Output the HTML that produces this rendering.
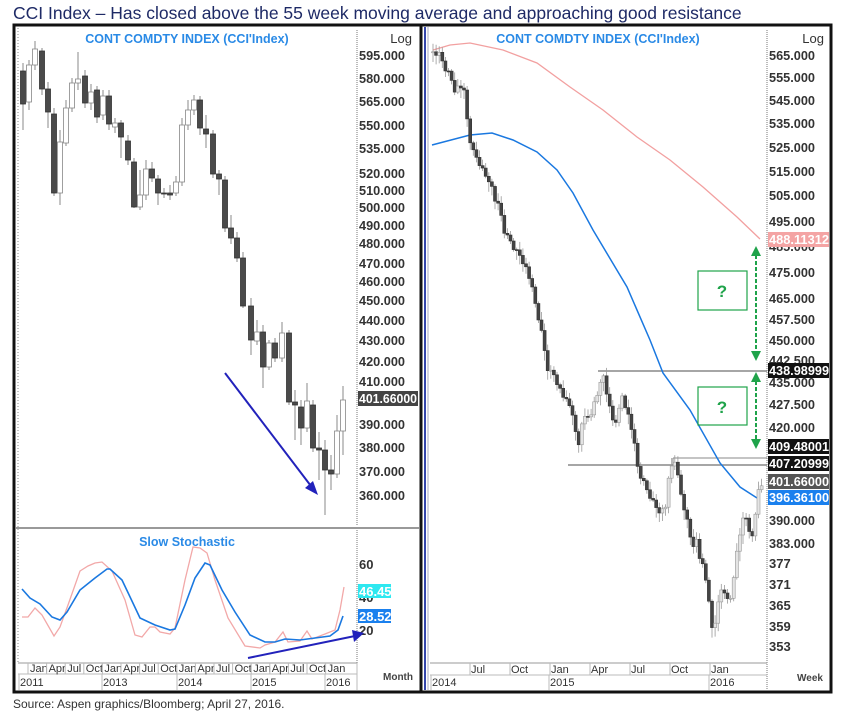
<!DOCTYPE html>
<html><head><meta charset="utf-8"><style>
body{margin:0;background:#fff;width:845px;height:715px;overflow:hidden}
svg{display:block;font-family:"Liberation Sans",sans-serif}
.ax{font-size:13px;fill:#333;font-weight:bold}
.tt{font-size:12.5px;fill:#2a8ae6;font-weight:bold}
.mo{font-size:11px;fill:#333}
</style></head><body>
<svg id="s" width="845" height="715" viewBox="0 0 845 715">
<text x="13" y="19" font-size="17.5" fill="#1e2a66">CCI Index – Has closed above the 55 week moving average and approaching good resistance</text>
<rect x="14" y="25" width="817" height="667" fill="#fff" stroke="#111" stroke-width="3"/>
<line x1="421" y1="25" x2="421" y2="692" stroke="#111" stroke-width="3"/>
<line x1="425" y1="27" x2="425" y2="690" stroke="#3344aa" stroke-width="2"/>
<line x1="428" y1="27" x2="428" y2="690" stroke="#aab" stroke-width="1"/>
<line x1="18" y1="28" x2="18" y2="663" stroke="#888" stroke-width="1" stroke-dasharray="1,2"/>
<line x1="357" y1="30" x2="357" y2="525" stroke="#777" stroke-dasharray="1,1"/>
<line x1="357" y1="530" x2="357" y2="663" stroke="#777" stroke-dasharray="1,1"/>
<line x1="16" y1="528" x2="419" y2="528" stroke="#999" stroke-width="2"/>
<line x1="18" y1="663" x2="357" y2="663" stroke="#999"/>
<line x1="18" y1="674" x2="357" y2="674" stroke="#bbb"/>
<line x1="357" y1="663" x2="357" y2="690" stroke="#bbb"/>
<text x="187" y="43" class="tt" text-anchor="middle">CONT  COMDTY  INDEX  (CCI'Index)</text>
<text x="412" y="43" class="ax" text-anchor="end" style="font-weight:normal">Log</text>
<g class="ax">
<text x="359" y="60" textLength="46" lengthAdjust="spacingAndGlyphs">595.000</text>
<text x="359" y="83" textLength="46" lengthAdjust="spacingAndGlyphs">580.000</text>
<text x="359" y="106" textLength="46" lengthAdjust="spacingAndGlyphs">565.000</text>
<text x="359" y="130" textLength="46" lengthAdjust="spacingAndGlyphs">550.000</text>
<text x="359" y="153" textLength="46" lengthAdjust="spacingAndGlyphs">535.000</text>
<text x="359" y="178" textLength="46" lengthAdjust="spacingAndGlyphs">520.000</text>
<text x="359" y="195" textLength="46" lengthAdjust="spacingAndGlyphs">510.000</text>
<text x="359" y="212" textLength="46" lengthAdjust="spacingAndGlyphs">500.000</text>
<text x="359" y="230" textLength="46" lengthAdjust="spacingAndGlyphs">490.000</text>
<text x="359" y="248" textLength="46" lengthAdjust="spacingAndGlyphs">480.000</text>
<text x="359" y="268" textLength="46" lengthAdjust="spacingAndGlyphs">470.000</text>
<text x="359" y="286" textLength="46" lengthAdjust="spacingAndGlyphs">460.000</text>
<text x="359" y="305" textLength="46" lengthAdjust="spacingAndGlyphs">450.000</text>
<text x="359" y="325" textLength="46" lengthAdjust="spacingAndGlyphs">440.000</text>
<text x="359" y="345" textLength="46" lengthAdjust="spacingAndGlyphs">430.000</text>
<text x="359" y="366" textLength="46" lengthAdjust="spacingAndGlyphs">420.000</text>
<text x="359" y="386" textLength="46" lengthAdjust="spacingAndGlyphs">410.000</text>
<text x="359" y="429" textLength="46" lengthAdjust="spacingAndGlyphs">390.000</text>
<text x="359" y="452" textLength="46" lengthAdjust="spacingAndGlyphs">380.000</text>
<text x="359" y="476" textLength="46" lengthAdjust="spacingAndGlyphs">370.000</text>
<text x="359" y="500" textLength="46" lengthAdjust="spacingAndGlyphs">360.000</text>
</g>
<rect x="358" y="391" width="60" height="15" fill="#444"/>
<text x="359" y="403" class="ax" style="fill:#fff" textLength="58" lengthAdjust="spacingAndGlyphs">401.66000</text>
<g id="lc"></g>
<line x1="225" y1="373" x2="314" y2="490" stroke="#2222bb" stroke-width="2"/>
<polygon points="318,495 305,488 313,481" fill="#2222bb"/>
<text x="187" y="546" class="tt" text-anchor="middle">Slow  Stochastic</text>
<g class="ax"><text x="359" y="569">60</text><text x="359" y="602">40</text><text x="359" y="635">20</text></g>
<rect x="358" y="584" width="33" height="14" fill="#2ee8f0"/>
<text x="359" y="596" class="ax" style="fill:#fff">46.45</text>
<rect x="358" y="609" width="33" height="14" fill="#1a80ee"/>
<text x="359" y="621" class="ax" style="fill:#fff">28.52</text>
<polyline fill="none" stroke="#f2a8a8" stroke-width="1.3" points="22,617 28,617 35,608 42,615 54,636 60,627 68,605 80,571 88,566 95,563 102,562 112,571 125,600 135,635 142,637 150,627 155,627 160,632 170,634 175,628 185,580 193,547 200,548 207,553 215,580 228,618 245,646 260,648 265,645 275,642 283,632 288,642 300,641 307,631 312,639 325,634 335,630 340,610 344,587"/>
<polyline fill="none" stroke="#1a78e0" stroke-width="1.6" points="22,589 30,598 40,604 52,617 60,620 67,612 80,590 95,578 107,569 110,569 122,580 140,618 155,625 170,630 175,629 185,605 195,578 205,563 210,565 222,590 235,612 250,635 265,642 275,642 285,639 300,640 315,638 330,636 338,630 343,616"/>
<line x1="248" y1="658" x2="355" y2="636" stroke="#2222bb" stroke-width="2"/>
<polygon points="364,633 352,630 354,642" fill="#2222bb"/>
<g class="mo" id="lm"></g>
<text x="383" y="680" font-size="10" fill="#444" font-weight="bold">Month</text>

<line x1="767" y1="30" x2="767" y2="690" stroke="#777" stroke-dasharray="1,1"/>
<line x1="430" y1="663" x2="767" y2="663" stroke="#999"/>
<line x1="430" y1="675" x2="767" y2="675" stroke="#bbb"/>
<text x="598" y="43" class="tt" text-anchor="middle">CONT  COMDTY  INDEX  (CCI'Index)</text>
<text x="824" y="43" class="ax" text-anchor="end" style="font-weight:normal">Log</text>
<g class="ax">
<text x="769" y="60" textLength="46" lengthAdjust="spacingAndGlyphs">565.000</text>
<text x="769" y="82" textLength="46" lengthAdjust="spacingAndGlyphs">555.000</text>
<text x="769" y="105" textLength="46" lengthAdjust="spacingAndGlyphs">545.000</text>
<text x="769" y="128" textLength="46" lengthAdjust="spacingAndGlyphs">535.000</text>
<text x="769" y="152" textLength="46" lengthAdjust="spacingAndGlyphs">525.000</text>
<text x="769" y="176" textLength="46" lengthAdjust="spacingAndGlyphs">515.000</text>
<text x="769" y="200" textLength="46" lengthAdjust="spacingAndGlyphs">505.000</text>
<text x="769" y="226" textLength="46" lengthAdjust="spacingAndGlyphs">495.000</text>
<text x="769" y="251" textLength="46" lengthAdjust="spacingAndGlyphs">485.000</text>
<text x="769" y="277" textLength="46" lengthAdjust="spacingAndGlyphs">475.000</text>
<text x="769" y="303" textLength="46" lengthAdjust="spacingAndGlyphs">465.000</text>
<text x="769" y="324" textLength="46" lengthAdjust="spacingAndGlyphs">457.500</text>
<text x="769" y="345" textLength="46" lengthAdjust="spacingAndGlyphs">450.000</text>
<text x="769" y="365" textLength="46" lengthAdjust="spacingAndGlyphs">442.500</text>
<text x="769" y="387" textLength="46" lengthAdjust="spacingAndGlyphs">435.000</text>
<text x="769" y="409" textLength="46" lengthAdjust="spacingAndGlyphs">427.500</text>
<text x="769" y="432" textLength="46" lengthAdjust="spacingAndGlyphs">420.000</text>
<text x="769" y="525" textLength="46" lengthAdjust="spacingAndGlyphs">390.000</text>
<text x="769" y="548" textLength="46" lengthAdjust="spacingAndGlyphs">383.000</text>
<text x="769" y="568">377</text><text x="769" y="589">371</text><text x="769" y="610">365</text><text x="769" y="631">359</text><text x="769" y="651">353</text>
</g>
<rect x="768" y="232" width="61" height="15" fill="#f4a4a4"/>
<text x="769" y="244" class="ax" style="fill:#fff" textLength="60" lengthAdjust="spacingAndGlyphs">488.11312</text>
<rect x="768" y="363" width="61" height="15" fill="#111"/>
<text x="769" y="375" class="ax" style="fill:#fff" textLength="60" lengthAdjust="spacingAndGlyphs">438.98999</text>
<rect x="768" y="439" width="61" height="15" fill="#111"/>
<text x="769" y="451" class="ax" style="fill:#fff" textLength="60" lengthAdjust="spacingAndGlyphs">409.48001</text>
<rect x="768" y="456" width="61" height="15" fill="#111"/>
<text x="769" y="468" class="ax" style="fill:#fff" textLength="60" lengthAdjust="spacingAndGlyphs">407.20999</text>
<rect x="768" y="474" width="61" height="15" fill="#555"/>
<text x="769" y="486" class="ax" style="fill:#fff" textLength="60" lengthAdjust="spacingAndGlyphs">401.66000</text>
<rect x="768" y="490" width="61" height="15" fill="#1a80ee"/>
<text x="769" y="502" class="ax" style="fill:#fff" textLength="60" lengthAdjust="spacingAndGlyphs">396.36100</text>
<line x1="598" y1="371" x2="767" y2="371" stroke="#888" stroke-width="1.5"/>
<line x1="568" y1="465" x2="767" y2="465" stroke="#888" stroke-width="1.5"/>
<line x1="673" y1="458" x2="767" y2="458" stroke="#888" stroke-width="1"/>
<line x1="673" y1="458" x2="673" y2="465" stroke="#888" stroke-width="1"/>
<polyline fill="none" stroke="#f2a0a0" stroke-width="1.3" points="433,50 450,45 470,43 503,50 537,63 570,87 603,110 637,137 670,160 703,187 737,217 760,239"/>
<polyline fill="none" stroke="#1a78e0" stroke-width="1.5" points="432,145 470,135 492,133 513,140 537,152 557,170 573,193 593,230 627,287 650,340 663,373 690,410 720,463 740,487 757,498"/>
<g id="rc"></g>
<rect x="698" y="271" width="49" height="39" fill="none" stroke="#1fa34a" stroke-width="1.2"/>
<text x="722" y="297" text-anchor="middle" font-size="17" font-weight="bold" fill="#1fa34a">?</text>
<rect x="698" y="387" width="49" height="38" fill="none" stroke="#1fa34a" stroke-width="1.2"/>
<text x="722" y="413" text-anchor="middle" font-size="17" font-weight="bold" fill="#1fa34a">?</text>
<g stroke="#1fa34a" stroke-width="2" stroke-dasharray="4,2"><line x1="756" y1="255" x2="756" y2="352"/><line x1="756" y1="381" x2="756" y2="440"/></g>
<g fill="#1fa34a"><polygon points="756,246 751,256 761,256"/><polygon points="756,361 751,351 761,351"/><polygon points="756,372 751,382 761,382"/><polygon points="756,449 751,439 761,439"/></g>
<g class="mo" id="rm"></g>
<text x="797" y="681" font-size="10" fill="#444" font-weight="bold">Week</text>
<text x="13" y="708" font-size="12" fill="#333">Source: Aspen graphics/Bloomberg; April 27, 2016.</text>
</svg>
<script>
var NS="http://www.w3.org/2000/svg";
function el(p,t,a,txt){var e=document.createElementNS(NS,t);for(var k in a)e.setAttribute(k,a[k]);if(txt)e.textContent=txt;p.appendChild(e);return e;}
var L=[[23,71,104,1,63,130],[29,65,102,0,60,110],[35,49,65,0,41,70],[42,51,89,1,48,95],[48,89,112,1,82,128],[54,114,193,1,108,196],[60,142,193,0,130,205],[66,108,143,0,100,146],[72,83,108,0,78,112],[78,79,83,0,52,90],[85,76,103,1,70,108],[91,92,103,0,84,110],[97,90,117,1,86,123],[103,96,115,0,90,120],[109,96,124,1,90,130],[115,123,127,0,118,133],[121,123,137,1,120,158],[128,141,160,1,135,165],[134,162,207,1,158,208],[140,195,207,0,170,210],[146,169,195,0,160,200],[152,169,178,1,162,182],[158,179,193,1,175,205],[164,193,194,1,188,198],[170,193,195,1,185,200],[176,182,193,0,176,196],[182,125,182,0,118,186],[188,110,125,0,100,130],[194,100,110,0,95,115],[200,100,128,1,96,135],[206,129,134,1,115,148],[213,134,174,1,130,178],[219,174,179,1,170,195],[225,180,228,1,176,232],[231,228,238,1,215,244],[237,238,258,1,232,262],[243,258,306,1,252,308],[251,306,340,1,298,355],[257,332,341,0,320,345],[263,332,367,1,325,388],[269,343,367,0,340,370],[275,343,358,1,338,362],[282,333,358,0,322,362],[289,333,402,1,330,405],[295,402,405,1,390,440],[301,407,428,1,400,445],[307,401,428,0,383,432],[313,405,448,1,400,452],[319,448,450,1,432,480],[325,450,470,1,440,515],[331,470,474,1,455,490],[337,431,474,0,415,478],[343,400,431,0,386,455]];
var g=document.getElementById("lc");
L.forEach(function(c){el(g,"line",{x1:c[0],x2:c[0],y1:c[4],y2:c[5],stroke:"#888","stroke-width":1});
el(g,"rect",{x:c[0]-2.5,y:c[1],width:5,height:Math.max(1,c[2]-c[1]),fill:c[3]?"#4a4a4a":"#fff",stroke:c[3]?"#333":"#888","stroke-width":0.8});});
var lm=document.getElementById("lm");
var ml=["Jan","Apr","Jul","Oct"];
for(var i=0;i<17;i++){var x=28+i*18.6;el(lm,"line",{x1:x,x2:x,y1:663,y2:674,stroke:"#bbb"});el(lm,"text",{x:x+2,y:672},ml[i%4]);}
[["2011",20],["2013",103],["2014",178],["2015",252],["2016",326]].forEach(function(y){el(lm,"line",{x1:y[1]-1,x2:y[1]-1,y1:674,y2:690,stroke:"#bbb"});el(lm,"text",{x:y[1],y:686},y[0]);});
var rm=document.getElementById("rm");
[["Jul",470],["Oct",510],["Jan",550],["Apr",590],["Jul",630],["Oct",670],["Jan",710]].forEach(function(m){el(rm,"line",{x1:m[1],x2:m[1],y1:663,y2:675,stroke:"#bbb"});el(rm,"text",{x:m[1]+1,y:673},m[0]);});
[["2014",432],["2015",550],["2016",710]].forEach(function(m){el(rm,"line",{x1:m[1]-1,x2:m[1]-1,y1:675,y2:690,stroke:"#bbb"});el(rm,"text",{x:m[1],y:686},m[0]);});
var K=[[432,52],[440,55],[445,68],[450,75],[455,90],[460,85],[465,95],[468,130],[472,150],[478,160],[485,175],[490,180],[495,200],[500,210],[505,235],[510,240],[515,250],[520,255],[525,265],[530,280],[541,330],[548,370],[555,375],[558,385],[565,400],[572,410],[578,450],[582,420],[590,415],[597,395],[604,375],[607,395],[612,420],[617,420],[622,395],[627,410],[633,435],[637,465],[640,475],[647,490],[652,500],[658,510],[665,510],[670,470],[675,460],[680,490],[687,520],[692,545],[697,540],[700,560],[704,570],[709,600],[713,640],[718,600],[722,590],[727,595],[731,600],[735,565],[740,535],[744,510],[748,530],[752,535],[755,520],[758,490],[762,482]];
function iy(x){for(var i=1;i<K.length;i++){if(x<=K[i][0]){var a=K[i-1],b=K[i];return a[1]+(b[1]-a[1])*(x-a[0])/(b[0]-a[0]);}}return K[K.length-1][1];}
var rc=document.getElementById("rc");var prev=iy(432);var n=0;
for(var x=433;x<=763;x+=3.1){n++;var c=iy(x)+((n*37)%11-5)*0.6;var o=prev;var t=Math.min(o,c),b=Math.max(o,c);var dark=c>o;
var hi=t-2-(n*13%7),lo=b+2+(n*17%9);
el(rc,"line",{x1:x,x2:x,y1:hi,y2:lo,stroke:"#999","stroke-width":0.8});
el(rc,"rect",{x:x-1.5,y:t,width:3,height:Math.max(1,b-t),fill:dark?"#444":"#e4e4e4",stroke:dark?"#333":"#999","stroke-width":0.6});prev=c;}
</script>
</body></html>
